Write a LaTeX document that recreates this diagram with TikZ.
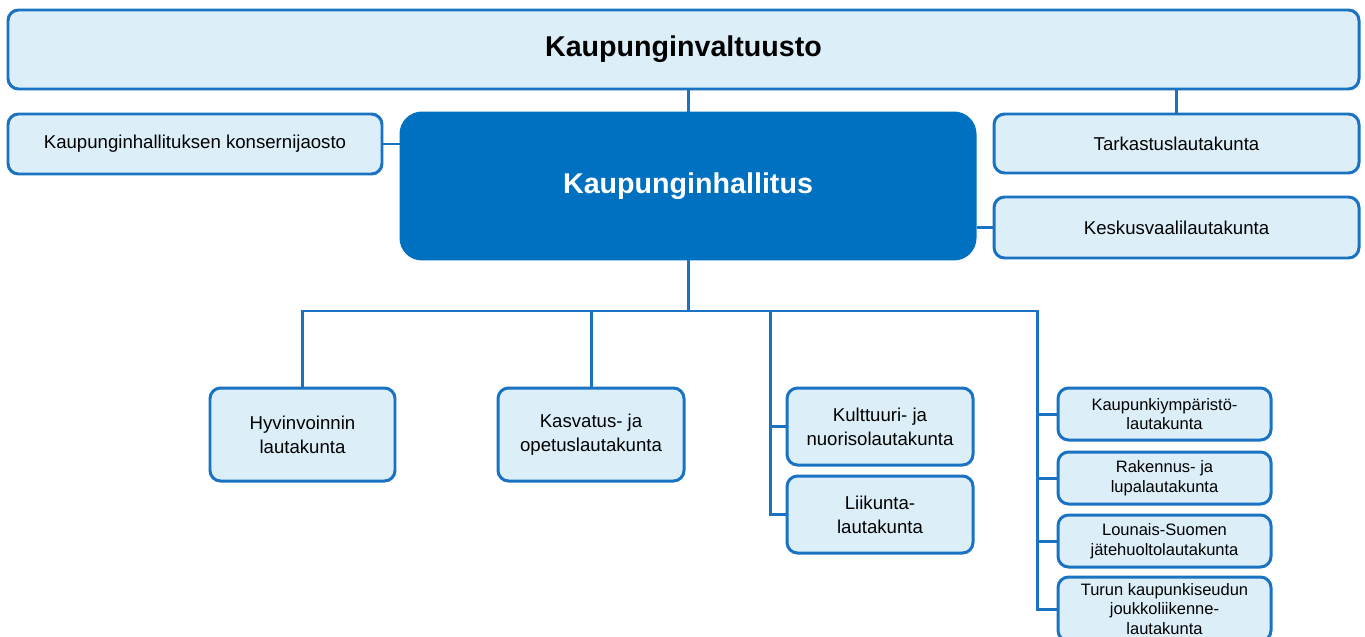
\documentclass[tikz,border=0pt]{standalone}
\usepackage{fontspec}
\setmainfont{Liberation Sans}
\definecolor{lightbox}{HTML}{DCEFF9}
\definecolor{edge}{HTML}{1A72C2}
\definecolor{darkbox}{HTML}{0070C0}
\begin{document}
\begin{tikzpicture}[x=0.02cm,y=-0.02cm,
  box/.style={draw=edge, line width=1.7pt, fill=lightbox, rounded corners=6pt, inner sep=0pt, align=center, text=black},
  normtext/.style={font=\fontsize{10.6pt}{13.7pt}\selectfont},
  smalltext/.style={font=\fontsize{9.4pt}{11.2pt}\selectfont},
  conn/.style={draw=edge, line width=1.7pt}]
\useasboundingbox (0,0) rectangle (1365,636);
% top level
\node[box, minimum width=1351*0.02cm, minimum height=79*0.02cm, font=\bfseries\fontsize{16.3pt}{19pt}\selectfont] (valt) at (683.5,49.5) {Kaupunginvaltuusto};
\node[box, normtext, minimum width=374*0.02cm, minimum height=60*0.02cm] (kons) at (195,144) {Kaupunginhallituksen konsernijaosto};
\node[box, fill=darkbox, draw=darkbox, rounded corners=12pt, text=white, minimum width=574*0.02cm, minimum height=146*0.02cm, font=\bfseries\fontsize{16.3pt}{19pt}\selectfont] (hall) at (688,186) {Kaupunginhallitus};
\node[box, normtext, minimum width=365*0.02cm, minimum height=59*0.02cm] (tark) at (1176.5,143.5) {Tarkastuslautakunta};
\node[box, normtext, minimum width=365*0.02cm, minimum height=61*0.02cm] (kesk) at (1176.5,227.5) {Keskusvaalilautakunta};
% lower boxes
\node[box, normtext, minimum width=185*0.02cm, minimum height=93*0.02cm] (hyv) at (302.5,434.5) {Hyvinvoinnin\\lautakunta};
\node[box, normtext, minimum width=186*0.02cm, minimum height=93*0.02cm] (kasv) at (591,434.5) {Kasvatus- ja\\opetuslautakunta};
\node[box, normtext, minimum width=186*0.02cm, minimum height=77*0.02cm] (kult) at (880,426.5) {Kulttuuri- ja\\nuorisolautakunta};
\node[box, normtext, minimum width=186*0.02cm, minimum height=77*0.02cm] (liik) at (880,514.5) {Liikunta-\\lautakunta};
\node[box, smalltext, minimum width=213*0.02cm, minimum height=52*0.02cm] (kymp) at (1164.5,414) {Kaupunkiympäristö-\\lautakunta};
\node[box, smalltext, minimum width=213*0.02cm, minimum height=52*0.02cm] (rak) at (1164.5,478) {Rakennus- ja\\lupalautakunta};
\node[box, smalltext, minimum width=213*0.02cm, minimum height=52*0.02cm] (lou) at (1164.5,541) {Lounais-Suomen\\jätehuoltolautakunta};
\node[box, smalltext, minimum width=213*0.02cm, minimum height=64*0.02cm] (tur) at (1164.5,609) {Turun kaupunkiseudun\\joukkoliikenne-\\lautakunta};
% coordinates
\coordinate (busL) at (302,311);
\coordinate (busR) at (1037,311);
\coordinate (midtop) at (770,311);
% connectors
\draw[conn] (hall.north) -- (hall.north |- valt.south);
\draw[conn] (tark.north) -- (tark.north |- valt.south);
\draw[conn] (kons.east) -- (kons.east -| hall.west);
\draw[conn] (kesk.west) -- (kesk.west -| hall.east);
\draw[conn] (hall.south) -- (hall.south |- busL);
\draw[conn] (hyv.north) -- (hyv.north |- busL) -- (busR) -- (busR |- tur.west) -- (tur.west);
\draw[conn] (kasv.north) -- (kasv.north |- busL);
\draw[conn] (midtop) -- (midtop |- liik.west) -- (liik.west);
\draw[conn] (midtop |- kult.west) -- (kult.west);
\draw[conn] (busR |- kymp.west) -- (kymp.west);
\draw[conn] (busR |- rak.west) -- (rak.west);
\draw[conn] (busR |- lou.west) -- (lou.west);
\end{tikzpicture}
\end{document}
